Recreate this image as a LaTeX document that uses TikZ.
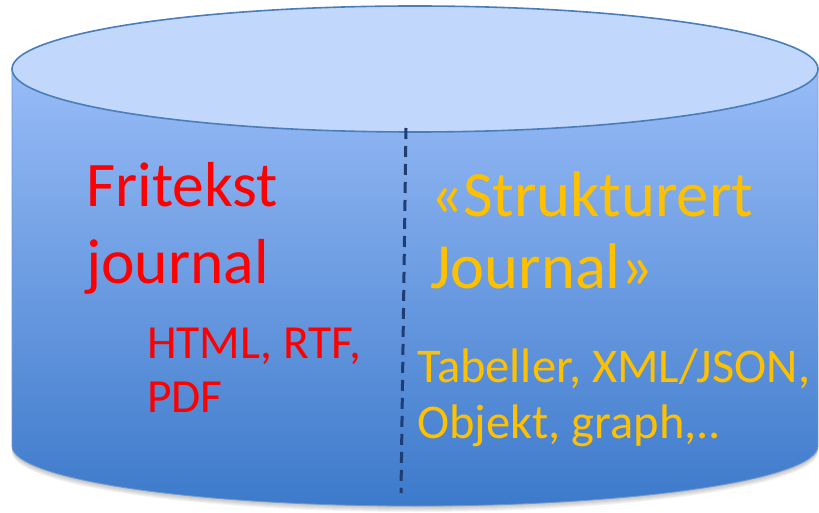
\documentclass[tikz,border=0pt]{standalone}
\usepackage{fontspec}
\setmainfont{Carlito}
\definecolor{rimblue}{HTML}{4A7EBB}
\definecolor{lidfill}{HTML}{C1D8FC}
\definecolor{sidetop}{HTML}{98BCF7}
\definecolor{sidebot}{HTML}{3D7ACB}
\definecolor{divider}{HTML}{1F3D73}
\definecolor{freered}{HTML}{FF0000}
\definecolor{structgold}{HTML}{FFC000}
\tikzset{
  big/.style={font=\fontsize{63.5}{74}\selectfont, anchor=base west, inner sep=0pt},
  bigr/.style={font=\fontsize{64.5}{74}\selectfont, anchor=base west, inner sep=0pt},
  small/.style={font=\fontsize{47.5}{55}\selectfont, anchor=base west, inner sep=0pt},
  smallr/.style={font=\fontsize{48.5}{55}\selectfont, anchor=base west, inner sep=0pt},
}
\begin{document}
\begin{tikzpicture}[x=1pt,y=1pt]
\useasboundingbox (0,0) rectangle (819,512);
% soft shadow under the bottom rim
\foreach \d in {1,...,6}{
  \fill[black,opacity=0.045]
    (12,66-\d) arc[start angle=180,end angle=360,x radius=403,y radius=60] -- (818,200) -- (12,200) -- cycle;
}
% cylinder body
\path[top color=sidetop,bottom color=sidebot,draw=rimblue!80,line width=0.8pt]
  (12,443) -- (12,66) arc[start angle=180,end angle=360,x radius=403,y radius=60] -- (818,443) -- cycle;
% lid
\draw[fill=lidfill,draw=rimblue,line width=1.6pt] (415,443) ellipse[x radius=403,y radius=63];
% divider
\coordinate (dtop) at (406,384);
\coordinate (dbot) at (401,19);
\draw[divider,line width=3pt,dash pattern=on 11pt off 7pt] (dtop) -- (dbot);
% left column
\node[big,text=freered] (fri) at (86,305) {Fritekst};
\node[big,text=freered] (jou) at (86,229) {journal};
\node[small,text=freered] (htm) at (147,154) {HTML, RTF,};
\node[small,text=freered] (pdf) at (147,100) {PDF};
% right column
\node[bigr,text=structgold] (str) at (430,295) {«Strukturert};
\node[bigr,text=structgold] (sjo) at (430,224) {Journal»};
\node[smallr,text=structgold] (tab) at (417,130) {Tabeller, XML/JSON,};
\node[smallr,text=structgold] (obj) at (417,74) {Objekt, graph,..};
\end{tikzpicture}
\end{document}
